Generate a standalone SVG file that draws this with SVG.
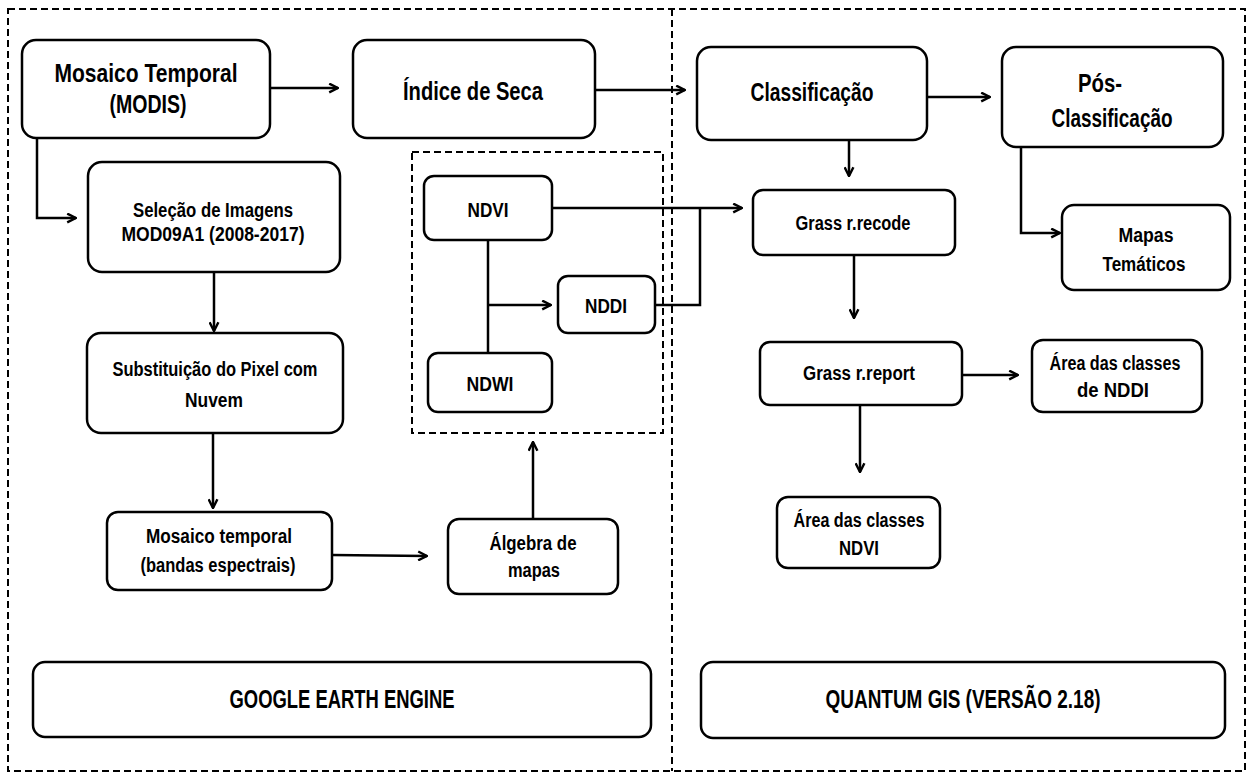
<svg xmlns="http://www.w3.org/2000/svg" width="1251" height="773" viewBox="0 0 1251 773">
<defs>
<marker id="ah" viewBox="0 0 10 10" refX="9" refY="5" markerWidth="11" markerHeight="11" markerUnits="userSpaceOnUse" orient="auto">
<path d="M1,1 L9,5 L1,9" fill="none" stroke="#000" stroke-width="2.2"/>
</marker>
<style>
.box{fill:#fff;stroke:#000;stroke-width:2.5}
.dash{fill:none;stroke:#000;stroke-width:2;stroke-dasharray:7,4}
.c{fill:none;stroke:#000;stroke-width:2.5}
.a{marker-end:url(#ah)}
.t{font-family:"Liberation Sans",Arial,sans-serif;font-weight:bold;fill:#000;text-anchor:middle}
.big{font-size:25px}
.med{font-size:20px}
</style>
</defs>
<rect width="1251" height="773" fill="#fff"/>
<g id="frames">
<rect class="dash" x="8" y="9" width="1237" height="762"/>
<line class="dash" x1="672" y1="9" x2="672" y2="771"/>
<rect class="dash" x="412" y="152" width="251" height="281"/>
</g>
<g id="connectors">
<path class="c a" d="M270,88 H338"/>
<path class="c a" d="M595,90 H685"/>
<path class="c a" d="M927,97 H990"/>
<path class="c a" d="M37,138 V218 H76"/>
<path class="c a" d="M214,272 V331"/>
<path class="c a" d="M213,433 V508"/>
<path class="c a" d="M332,555 L427,556"/>
<path class="c a" d="M533,519 V442"/>
<path class="c a" d="M849,140 V176"/>
<path class="c a" d="M552,208 H742"/>
<path class="c" d="M655,305 H700 V208"/>
<path class="c" d="M488,240 V353"/>
<path class="c a" d="M488,305 H551"/>
<path class="c a" d="M1021,147 V233 H1060"/>
<path class="c a" d="M854,255 V318"/>
<path class="c a" d="M962,375 H1018"/>
<path class="c a" d="M860,405 V472"/>
</g>
<g id="n1"><rect class="box" x="22" y="40" width="248" height="98" rx="14"/>
<text class="t big" x="146" y="82" textLength="183" lengthAdjust="spacingAndGlyphs">Mosaico Temporal</text>
<text class="t big" x="148" y="113" textLength="77" lengthAdjust="spacingAndGlyphs">(MODIS)</text></g>
<g id="n2"><rect class="box" x="353" y="40" width="242" height="98" rx="14"/>
<text class="t big" x="473" y="100" textLength="140" lengthAdjust="spacingAndGlyphs">Índice de Seca</text></g>
<g id="n3"><rect class="box" x="697" y="47" width="230" height="93" rx="14"/>
<text class="t big" x="812" y="101" textLength="123" lengthAdjust="spacingAndGlyphs">Classificação</text></g>
<g id="n4"><rect class="box" x="1002" y="47" width="221" height="100" rx="14"/>
<text class="t big" x="1100" y="92" textLength="44" lengthAdjust="spacingAndGlyphs">Pós-</text>
<text class="t big" x="1112" y="127" textLength="121" lengthAdjust="spacingAndGlyphs">Classificação</text></g>
<g id="n5"><rect class="box" x="88" y="162" width="252" height="110" rx="14"/>
<text class="t med" x="213" y="217" textLength="160" lengthAdjust="spacingAndGlyphs">Seleção de Imagens</text>
<text class="t med" x="213" y="241" textLength="183" lengthAdjust="spacingAndGlyphs">MOD09A1 (2008-2017)</text></g>
<g id="n6"><rect class="box" x="87" y="333" width="256" height="100" rx="14"/>
<text class="t med" x="215" y="376" textLength="205" lengthAdjust="spacingAndGlyphs">Substituição do Pixel com</text>
<text class="t med" x="214" y="407" textLength="58" lengthAdjust="spacingAndGlyphs">Nuvem</text></g>
<g id="n7"><rect class="box" x="107" y="512" width="225" height="78" rx="11"/>
<text class="t med" x="219" y="543" textLength="146" lengthAdjust="spacingAndGlyphs">Mosaico temporal</text>
<text class="t med" x="218" y="572" textLength="155" lengthAdjust="spacingAndGlyphs">(bandas espectrais)</text></g>
<g id="n8"><rect class="box" x="448" y="519" width="170" height="75" rx="11"/>
<text class="t med" x="533" y="550" textLength="87" lengthAdjust="spacingAndGlyphs">Álgebra de</text>
<text class="t med" x="534" y="577" textLength="52" lengthAdjust="spacingAndGlyphs">mapas</text></g>
<g id="n9"><rect class="box" x="424" y="176" width="128" height="64" rx="10"/>
<text class="t med" x="488" y="217" textLength="41" lengthAdjust="spacingAndGlyphs">NDVI</text></g>
<g id="n10"><rect class="box" x="558" y="276" width="97" height="57" rx="10"/>
<text class="t med" x="606" y="313" textLength="42" lengthAdjust="spacingAndGlyphs">NDDI</text></g>
<g id="n11"><rect class="box" x="428" y="353" width="124" height="59" rx="10"/>
<text class="t med" x="490" y="391" textLength="47" lengthAdjust="spacingAndGlyphs">NDWI</text></g>
<g id="n12"><rect class="box" x="753" y="190" width="202" height="65" rx="10"/>
<text class="t med" x="853" y="230" textLength="115" lengthAdjust="spacingAndGlyphs">Grass r.recode</text></g>
<g id="n13"><rect class="box" x="1062" y="205" width="168" height="85" rx="12"/>
<text class="t med" x="1146" y="242" textLength="55" lengthAdjust="spacingAndGlyphs">Mapas</text>
<text class="t med" x="1144" y="271" textLength="83" lengthAdjust="spacingAndGlyphs">Temáticos</text></g>
<g id="n14"><rect class="box" x="760" y="342" width="202" height="63" rx="10"/>
<text class="t med" x="859" y="380" textLength="112" lengthAdjust="spacingAndGlyphs">Grass r.report</text></g>
<g id="n15"><rect class="box" x="1032" y="340" width="170" height="72" rx="11"/>
<text class="t med" x="1115" y="370" textLength="131" lengthAdjust="spacingAndGlyphs">Área das classes</text>
<text class="t med" x="1113" y="397" textLength="72" lengthAdjust="spacingAndGlyphs">de NDDI</text></g>
<g id="n16"><rect class="box" x="777" y="497" width="163" height="71" rx="11"/>
<text class="t med" x="859" y="527" textLength="131" lengthAdjust="spacingAndGlyphs">Área das classes</text>
<text class="t med" x="859" y="555" textLength="40" lengthAdjust="spacingAndGlyphs">NDVI</text></g>
<g id="n17"><rect class="box" x="33" y="662" width="618" height="75" rx="12"/>
<text class="t big" x="342" y="708" textLength="225" lengthAdjust="spacingAndGlyphs">GOOGLE EARTH ENGINE</text></g>
<g id="n18"><rect class="box" x="701" y="662" width="524" height="76" rx="12"/>
<text class="t big" x="963" y="708" textLength="275" lengthAdjust="spacingAndGlyphs">QUANTUM GIS (VERSÃO 2.18)</text></g>
</svg>
